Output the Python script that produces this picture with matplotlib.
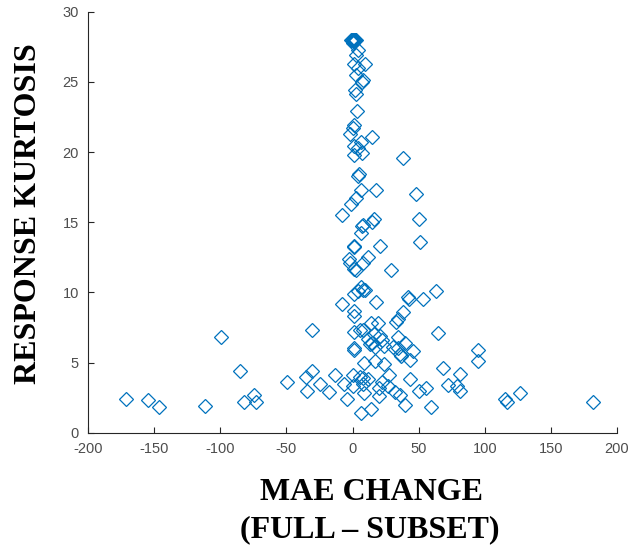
import numpy as np
import matplotlib
matplotlib.use("Agg")
import matplotlib.pyplot as plt

plt.rcParams['axes.unicode_minus'] = False

# MAE change (full - subset) vs response kurtosis
mae_change = [
    -0.5, 0.3, 1.0, 1.8, 2.5, -1.2, 0.8, 2.0, 1.5, 0.0,
    4.0, 2.7, 9.3, 1.3, 4.0, 2.7, 8.0, 7.4, 1.9, 2.7,
    3.4, 1.3, 0.3, -1.9, 15.0, 6.1, 1.3, 4.0, 1.3, 7.2,
    38.5, 4.8, 4.0, 6.1, 18.0, 47.7, 2.7, -0.8, -8.0, 16.0,
    15.0, 50.4, 8.0, 7.2, 6.6, 51.2, 1.3, 0.8, 20.7, 11.4,
    -2.7, -1.9, 8.0, 2.7, 1.3, 29.0, 6.1, 8.0, 1.3, 4.5,
    9.8, 63.0, -8.0, 18.0, 42.0, 42.4, 53.0, 0.8, 1.3, 38.5,
    34.5, 33.2, 14.0, 19.4, -30.5, 1.3, 5.3, 8.0, 65.0, -99.5,
    12.0, 20.7, 34.5, 14.6, 22.5, 39.8, 17.2, 30.5, 34.5, 0.8,
    1.3, 46.0, 94.7, 37.0, 43.8, 8.8, 17.2, 23.9, 94.7, -85.4,
    -30.5, -35.0, -13.3, 0.0, 5.3, 8.0, 27.9, 68.4, 81.0, -49.6,
    11.4, 43.8, -24.4, -6.6, 22.0, 0.0, 8.0, 72.4, 79.0, -34.5,
    -17.8, 19.9, 26.5, 31.8, 50.4, 55.7, 81.0, -74.3, 8.8, 35.8,
    127.0, -171.6, -155.0, -146.0, -111.4, -82.2, -73.0, -4.5, 19.9, 39.8,
    59.7, 115.4, 116.7, 182.0, 6.1, 14.0, 13.0, 16.5, 24.0, 36.0,
]
kurtosis = [
    28.0, 28.0, 28.0, 28.0, 28.0, 28.0, 27.9, 28.0, 28.0, 27.8,
    27.3, 26.9, 26.3, 26.3, 26.0, 25.5, 25.1, 25.0, 24.4, 24.1,
    22.9, 21.9, 21.7, 21.3, 21.1, 20.7, 20.4, 20.3, 19.8, 19.9,
    19.6, 18.4, 18.3, 17.3, 17.3, 17.0, 16.7, 16.3, 15.5, 15.2,
    15.0, 15.2, 14.8, 14.7, 14.2, 13.6, 13.3, 13.2, 13.3, 12.5,
    12.4, 12.1, 12.1, 11.6, 11.7, 11.6, 10.4, 10.2, 9.9, 10.1,
    10.2, 10.1, 9.2, 9.3, 9.7, 9.5, 9.5, 8.7, 8.3, 8.6,
    8.1, 7.9, 7.8, 7.8, 7.3, 7.2, 7.3, 7.3, 7.1, 6.8,
    6.7, 6.9, 6.8, 6.4, 6.6, 6.4, 6.1, 6.1, 6.0, 5.9,
    6.0, 5.8, 5.9, 5.5, 5.2, 5.0, 5.1, 4.9, 5.1, 4.4,
    4.4, 4.0, 4.1, 4.1, 4.0, 3.9, 4.1, 4.6, 4.2, 3.6,
    3.8, 3.8, 3.5, 3.5, 3.6, 3.3, 3.5, 3.4, 3.3, 3.0,
    2.9, 3.2, 3.3, 2.9, 3.0, 3.2, 3.0, 2.7, 2.8, 2.7,
    2.8, 2.4, 2.3, 1.8, 1.9, 2.2, 2.2, 2.4, 2.6, 2.0,
    1.8, 2.4, 2.2, 2.2, 1.4, 1.7, 6.3, 7.0, 6.2, 5.6,
]

x_ticks = [-200, -150, -100, -50, 0, 50, 100, 150, 200]
y_ticks = [0, 5, 10, 15, 20, 25, 30]

fig = plt.figure(figsize=(6.3, 5.51), dpi=100)
ax = fig.add_axes([0.1397, 0.2147, 0.8397, 0.7641])

ax.plot(mae_change, kurtosis, 'D', ms=7, mfc='none', mec='#0072BD', mew=0.9)

ax.set_xlim(-200, 200)
ax.set_ylim(0, 30)
ax.set_xticks(x_ticks)
ax.set_yticks(y_ticks)
ax.spines['top'].set_visible(False)
ax.spines['right'].set_visible(False)
for s in ['left', 'bottom']:
    ax.spines[s].set_color('#262626')
    ax.spines[s].set_linewidth(0.8)
ax.tick_params(direction='in', length=4, width=0.8, color='#262626',
               labelcolor='#4d4d4d', labelsize=10.5, pad=6.5)
for lab in ax.get_xticklabels() + ax.get_yticklabels():
    lab.set_fontfamily('Liberation Sans')

fig.text(372 / 630, 1 - 493 / 551, 'MAE CHANGE', ha='center', va='center',
         family='Liberation Serif', weight='bold', fontsize=23)
fig.text(370 / 630, 1 - 530 / 551, '(FULL \u2013 SUBSET)', ha='center', va='center',
         family='Liberation Serif', weight='bold', fontsize=23)
fig.text(29 / 630, 1 - 214 / 551, 'RESPONSE KURTOSIS', ha='center', va='center',
         rotation=90, family='Liberation Serif', weight='bold', fontsize=23)

fig.savefig('out.png', dpi=100)
